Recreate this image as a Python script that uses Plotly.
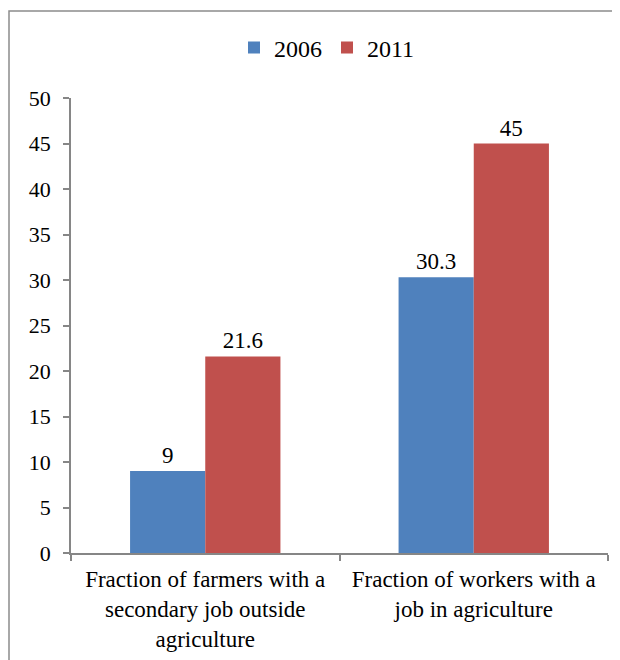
import plotly.graph_objects as go

# chart data
categories = [
    "Fraction of farmers with a<br>secondary job outside<br>agriculture",
    "Fraction of workers with a<br>job in agriculture",
]
years = ["2006", "2011"]
values_2006 = [9, 30.3]
values_2011 = [21.6, 45]
y_ticks = [0, 5, 10, 15, 20, 25, 30, 35, 40, 45, 50]

colors = {"2006": "#4f81bd", "2011": "#c0504d"}
font_family = "Liberation Serif"

# figure is drawn 8px in from the page corner (body margin)
W, H = 620, 660
OFF = 8
left, right, top, bottom = 63, 20, 90, 115
pw, ph = W - left - right, H - top - bottom


def px_x(x):
    return (x - OFF - left) / pw


def px_y(y):
    return (H - bottom - (y - OFF)) / ph


fig = go.Figure()
for year, vals in zip(years, [values_2006, values_2011]):
    fig.add_trace(go.Bar(
        x=categories,
        y=vals,
        name=year,
        marker=dict(color=colors[year], line=dict(width=0)),
        text=[str(v) for v in vals],
        textposition="outside",
        textfont=dict(family=font_family, size=23, color="black"),
        cliponaxis=False,
    ))

# chart border (only left/top visible in the window)
fig.add_shape(
    type="rect", xref="paper", yref="paper",
    x0=px_x(9), x1=px_x(W + 20), y0=px_y(H + 20), y1=px_y(11),
    line=dict(color="#8c8c8c", width=1.5), fillcolor="rgba(0,0,0,0)",
    layer="below",
)

fig.update_layout(
    width=W, height=H,
    barmode="group",
    bargap=0.44,
    bargroupgap=0,
    plot_bgcolor="white",
    paper_bgcolor="white",
    font=dict(family=font_family, size=22, color="black"),
    margin=dict(l=left, r=right, t=top, b=bottom),
    legend=dict(
        orientation="h",
        x=px_x(234), xanchor="left",
        y=px_y(48), yanchor="middle",
        font=dict(family=font_family, size=24, color="black"),
        itemwidth=30,
        traceorder="normal",
    ),
    showlegend=True,
)
fig.update_xaxes(
    showline=True, linecolor="#868686", linewidth=1.5,
    ticks="outside", ticklen=6, tickcolor="#868686", tickwidth=1.5,
    tickson="boundaries",
    showgrid=False,
    ticklabelstandoff=5,
    tickfont=dict(family=font_family, size=23, color="black"),
)
fig.update_yaxes(
    range=[0, 50],
    tickvals=y_ticks,
    showline=True, linecolor="#868686", linewidth=1.5,
    ticks="outside", ticklen=6, tickcolor="#868686", tickwidth=1.5,
    showgrid=False, zeroline=False,
    ticklabelstandoff=8,
    tickfont=dict(family=font_family, size=22, color="black"),
)

fig.write_html("out.html")
